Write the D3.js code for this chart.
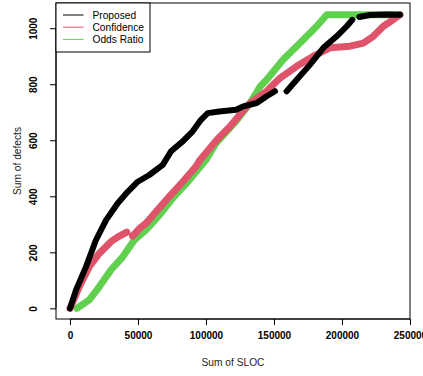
<!DOCTYPE html>
<html><head><meta charset="utf-8">
<script src="https://cdn.jsdelivr.net/npm/d3@7/dist/d3.min.js"></script>
<style>body{margin:0;background:#fff}svg{display:block}</style>
</head><body>
<script>
// Data (x = Sum of SLOC, y = Sum of defects); null marks a gap between points
const proposed = [[0,0],[4400,65],[11800,149],[19100,244],[26500,315],[35100,375],[42400,416],[49800,452],[58300,476],[68200,512],[74300,561],[82900,596],[90200,632],[96300,673],[101300,697],[109800,703],[122100,709],[127400,721],[137300,733],[144600,757],[150700,775],null,[159300,775],[166700,816],[176500,870],[186300,930],[196100,971],[203500,1007],[207600,1030],null,[212700,1040],[220600,1047],[232900,1049],[242600,1048]];
const confidence = [[0,0],[6800,77],[14200,149],[21500,196],[30100,238],[35300,255],[41800,272],null,[46000,258],[51500,287],[55900,304],[63200,345],[73000,399],[82900,452],[92600,506],[95600,530],[107900,601],[117800,650],[125000,692],[132400,733],[144600,775],[154400,822],[166700,864],[178900,900],[191200,930],[205900,936],[215700,947],[223000,971],[230400,1007],[237700,1031],[242600,1048]];
const oddsRatio = [[5000,0],[14200,30],[21500,77],[30100,137],[38800,184],[47300,244],[55900,280],[65700,333],[75500,393],[87700,458],[100000,530],[107400,590],[122100,668],[132400,733],[139700,791],[144600,816],[156800,888],[169100,947],[181400,1007],[188800,1048],[191200,1048],[242600,1048]];
const seriesNames = ["Proposed","Confidence","Odds Ratio"];
const seriesColors = ["#000000","#DF536B","#61D04F"];
const xTicks = [0,50000,100000,150000,200000,250000];
const yTicks = [0,200,400,600,800,1000];

(function(){
const W = 423, H = 376;
const svg = d3.select("body").append("svg").attr("width", W).attr("height", H);
const pL = 56, pR = 410, pT = 3, pB = 319;
const x = d3.scaleLinear().domain([-10294, 250000]).range([pL, pR]);
const y = d3.scaleLinear().domain([-38, 1090]).range([pB, pT]);

const line = d3.line().defined(d => d !== null).x(d => x(d[0])).y(d => y(d[1]));
const draw = [[oddsRatio, 2, 7], [confidence, 1, 7], [proposed, 0, 6]];
const plot = svg.append("g");
draw.forEach(([data, ci, w]) => {
  plot.append("path").attr("d", line(data)).attr("fill", "none")
    .attr("stroke", seriesColors[ci]).attr("stroke-width", w)
    .attr("stroke-linecap", "round").attr("stroke-linejoin", "round");
});

svg.append("rect").attr("x", pL).attr("y", pT).attr("width", pR - pL).attr("height", pB - pT)
  .attr("fill", "none").attr("stroke", "#000").attr("stroke-width", 1);

const font = "Liberation Sans, Arial, Helvetica, sans-serif";
const xAxis = svg.append("g").attr("transform", `translate(0,${pB})`)
  .call(d3.axisBottom(x).tickValues(xTicks).tickSize(6).tickPadding(7).tickFormat(d3.format("d")));
xAxis.select(".domain").attr("d", `M${x(0)},0H${x(250000)}`);
xAxis.selectAll("text").attr("font-family", font).attr("font-size", "10px").attr("font-weight", "bold").attr("fill", "#000");
const yAxis = svg.append("g").attr("transform", `translate(${pL},0)`)
  .call(d3.axisLeft(y).tickValues(yTicks).tickSize(6).tickFormat(d3.format("d")));
yAxis.select(".domain").attr("d", `M0,${y(0)}V${y(1000)}`);
yAxis.selectAll(".tick text").attr("font-family", font).attr("font-size", "10px").attr("font-weight", "bold").attr("fill", "#000")
  .attr("x", null).attr("text-anchor", "middle")
  .attr("transform", "translate(-19,0) rotate(-90)").attr("y", 0).attr("dy", "0");

svg.append("text").attr("x", (pL + pR) / 2).attr("y", 366).attr("text-anchor", "middle")
  .attr("font-family", font).attr("font-size", "10.2px").attr("fill", "#222").text("Sum of SLOC");
svg.append("text").attr("transform", `translate(21,${(pT + pB) / 2}) rotate(-90)`).attr("text-anchor", "middle")
  .attr("font-family", font).attr("font-size", "10.2px").attr("fill", "#222").text("Sum of defects");

const lg = svg.append("g");
lg.append("rect").attr("x", pL).attr("y", pT).attr("width", 94).attr("height", 49)
  .attr("fill", "#fff").attr("stroke", "#000").attr("stroke-width", 1);
seriesNames.forEach((n, i) => {
  const yy = 15 + i * 12.2;
  lg.append("line").attr("x1", 63).attr("x2", 83.5).attr("y1", yy).attr("y2", yy)
    .attr("stroke", seriesColors[i]).attr("stroke-width", 1);
  lg.append("text").attr("x", 92.5).attr("y", yy + 3.6).attr("font-family", font).attr("font-size", "10.2px")
    .attr("fill", "#000").text(n);
});
})();
</script>
</body></html>
